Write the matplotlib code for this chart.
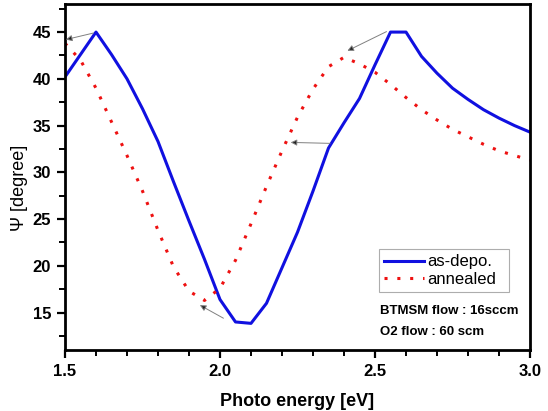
import numpy as np
import matplotlib
matplotlib.use("Agg")
import matplotlib.pyplot as plt
from matplotlib.ticker import MultipleLocator

plt.rcParams['font.family'] = ['Liberation Sans', 'DejaVu Sans']

# photon energy grid (eV)
energy = [1.50, 1.55, 1.60, 1.65, 1.70, 1.75, 1.80, 1.85, 1.90, 1.95,
          2.00, 2.05, 2.10, 2.15, 2.20, 2.25, 2.30, 2.35, 2.40, 2.45,
          2.50, 2.55, 2.60, 2.65, 2.70, 2.75, 2.80, 2.85, 2.90, 2.95, 3.00]

psi_asdepo = [40.2, 42.6, 45.0, 42.6, 40.0, 36.8, 33.3, 29.0, 24.8, 20.7,
              16.4, 14.0, 13.85, 16.0, 19.8, 23.6, 28.0, 32.6, 35.3, 37.9,
              41.5, 45.0, 45.0, 42.4, 40.6, 39.0, 37.8, 36.7, 35.8, 35.0, 34.3]

psi_annealed = [43.8, 42.0, 39.0, 35.4, 31.8, 28.0, 23.8, 19.9, 17.3, 16.3,
                17.6, 20.6, 24.5, 28.5, 32.3, 35.9, 38.9, 41.3, 42.3, 41.6,
                40.7, 39.4, 38.0, 36.7, 35.6, 34.6, 33.8, 33.0, 32.3, 31.8, 31.3]

# arrows (tail -> head) in data coords
arrows = [((1.592, 44.9), (1.503, 44.2)),
          ((2.537, 45.05), (2.411, 43.0)),
          ((2.355, 33.1), (2.228, 33.2)),
          ((2.011, 14.4), (1.935, 15.8))]

fig = plt.figure(figsize=(5.48, 4.11), dpi=100)
ax = fig.add_axes([0.1186, 0.1484, 0.8486, 0.8418])

ax.plot(energy, psi_asdepo, color='#1010e0', lw=2.2, label='as-depo.')
ax.plot(energy, psi_annealed, color='#ee1111', lw=2.2, ls=(0, (1, 3.2)),
        label='annealed')

for tail, head in arrows:
    ax.annotate('', xy=head, xytext=tail,
                arrowprops=dict(arrowstyle='-|>', ec='#808080', fc='#222222',
                                lw=0.7, mutation_scale=9, shrinkA=0, shrinkB=0))

ax.set_xlim(1.5, 3.0)
ax.set_ylim(11, 48)
ax.xaxis.set_major_locator(MultipleLocator(0.5))
ax.xaxis.set_minor_locator(MultipleLocator(0.1))
ax.yaxis.set_major_locator(MultipleLocator(5))
ax.yaxis.set_minor_locator(MultipleLocator(2.5))
ax.set_xticklabels([], minor=True)
ax.xaxis.set_major_formatter(matplotlib.ticker.FormatStrFormatter('%.1f'))

ax.tick_params(which='major', direction='out', length=6, width=1.6,
               labelsize=12, pad=4)
ax.tick_params(which='minor', direction='out', length=4, width=1.4)
for lab in ax.get_xticklabels() + ax.get_yticklabels():
    lab.set_fontweight('bold')
for sp in ax.spines.values():
    sp.set_linewidth(2.0)

ax.set_xlabel('Photo energy [eV]', fontsize=13, fontweight='bold', labelpad=10)
ax.set_ylabel('Ψ [degree]', fontsize=13)
ax.yaxis.set_label_coords(-0.08, 0.47)

leg = ax.legend(loc='lower left', bbox_to_anchor=(0.675, 0.168, 0.28, 0.138),
                mode='expand', fontsize=12, frameon=True, fancybox=False,
                handlelength=2.4, handletextpad=0.2, borderpad=0.3,
                labelspacing=0.15, borderaxespad=0)
leg.get_frame().set_edgecolor('#999999')
leg.get_frame().set_linewidth(0.8)

ax.text(0.678, 0.114, 'BTMSM flow : 16sccm', transform=ax.transAxes,
        fontsize=9.5, fontweight='bold', va='center', ha='left')
ax.text(0.678, 0.051, 'O2 flow : 60 scm', transform=ax.transAxes,
        fontsize=9.5, fontweight='bold', va='center', ha='left')

fig.savefig('out.png', dpi=100)
